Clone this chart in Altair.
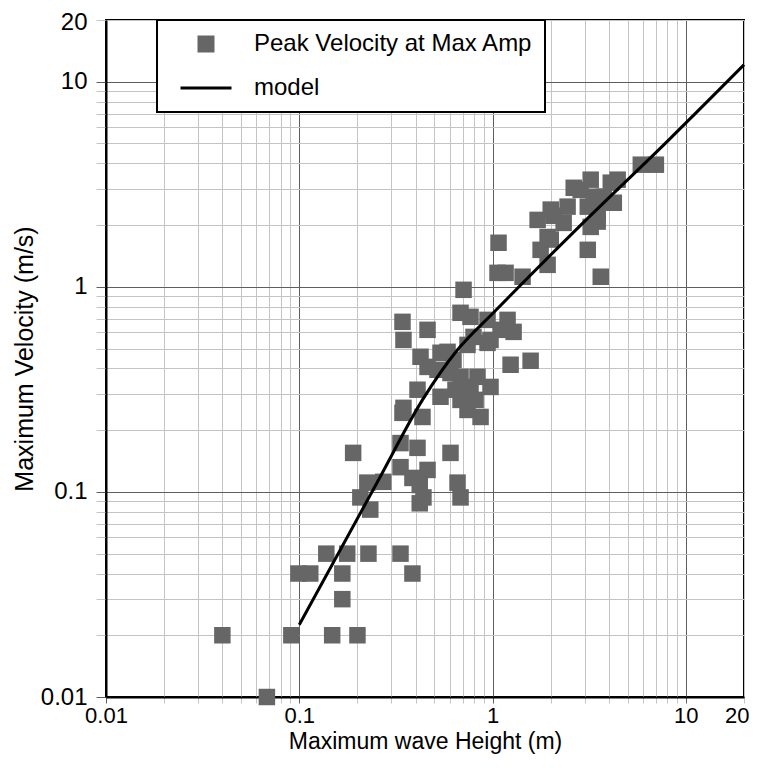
import altair as alt
import pandas as pd

# Observations: maximum wave height (m) and peak velocity at max amplitude (m/s)
height_m = [0.040, 0.068, 0.091, 0.099, 0.114, 0.138, 0.177, 0.228, 0.167, 0.167,
            0.148, 0.200, 0.334, 0.385, 0.190, 0.334, 0.409, 0.606, 0.334, 0.461,
            0.385, 0.225, 0.272, 0.659, 0.207, 0.233, 0.439, 0.683, 0.420, 0.342,
            0.434, 0.420, 0.708, 0.342, 0.346, 0.461, 0.769, 0.942, 1.196, 1.285,
            0.797, 0.942, 0.683, 0.976, 1.240, 1.574, 0.424, 0.538, 0.628, 0.519,
            0.606, 0.836, 0.976, 0.409, 0.538, 0.742, 0.867, 0.683, 0.769, 0.683,
            0.585, 0.461, 0.346, 0.742, 1.100, 0.643, 0.817, 1.074, 1.061, 1.168,
            1.430, 1.711, 2.071, 1.773, 1.927, 1.927, 2.445, 2.333, 2.857, 3.220,
            3.110, 3.500, 3.760, 4.090, 4.240, 3.110, 3.630, 5.850, 7.000, 2.630,
            2.000, 3.340, 4.440, 3.220, 2.000, 3.500]
velocity = [0.020, 0.010, 0.020, 0.040, 0.040, 0.050, 0.050, 0.050, 0.040, 0.030,
            0.020, 0.020, 0.050, 0.040, 0.155, 0.173, 0.164, 0.155, 0.132, 0.128,
            0.117, 0.111, 0.112, 0.111, 0.094, 0.082, 0.094, 0.094, 0.088, 0.243,
            0.232, 0.108, 0.967, 0.675, 0.551, 0.617, 0.714, 0.690, 0.690, 0.603,
            0.570, 0.533, 0.747, 0.551, 0.417, 0.436, 0.456, 0.477, 0.440, 0.394,
            0.380, 0.364, 0.325, 0.315, 0.291, 0.251, 0.232, 0.364, 0.325, 0.281,
            0.482, 0.407, 0.257, 0.521, 0.617, 0.315, 0.281, 1.640, 1.170, 1.170,
            1.120, 2.120, 2.220, 1.515, 1.280, 1.750, 2.460, 2.050, 2.970, 3.330,
            2.460, 2.080, 2.750, 3.220, 2.570, 1.515, 1.120, 3.940, 3.940, 3.040,
            2.380, 2.750, 3.330, 1.960, 1.700, 2.300]

# Model curve
model_h = [0.1, 0.254, 0.434, 0.659, 1.01, 2.86, 8.17, 20.0]
model_v = [0.0225, 0.112, 0.281, 0.493, 0.747, 2.0, 5.21, 12.1]

series_names = ["Peak Velocity at Max Amp", "model"]

# Axis grid / tick values
grid_vals = [0.01, 0.02, 0.03, 0.04, 0.05, 0.06, 0.07, 0.08, 0.09,
             0.1, 0.2, 0.3, 0.4, 0.5, 0.6, 0.7, 0.8, 0.9,
             1, 2, 3, 4, 5, 6, 7, 8, 9, 10, 20]
major_test = "indexof([0.01, 0.1, 1, 10], datum.value) >= 0"
label_expr = "indexof([0.01, 0.1, 1, 10, 20], datum.value) >= 0 ? format(datum.value, '~g') : ''"

FONT = "Liberation Sans"
SQUARE = "M-1,-1L1,-1L1,1L-1,1Z"
LINE = "M-3,-0.17L3,-0.17L3,0.17L-3,0.17Z"

obs = pd.DataFrame({"H": height_m, "V": velocity, "series": series_names[0]})
mod = pd.DataFrame({"H": model_h, "V": model_v})

grid_color = {"condition": {"test": major_test, "value": "#5e5e5e"}, "value": "#c4c4c4"}
last_align = {"condition": {"test": "datum.value == 20", "value": "right"}, "value": "center"}
last_offset = {"condition": {"test": "datum.value == 20", "value": 5}, "value": 0}
top_offset = {"condition": {"test": "datum.value == 20", "value": 2}, "value": 0}

xscale = alt.Scale(type="log", domain=[0.01, 20], nice=False)
yscale = alt.Scale(type="log", domain=[0.01, 20], nice=False)

xaxis = alt.Axis(values=grid_vals, labelExpr=label_expr, labelFlush=False, labelOverlap=False,
                 grid=True, gridColor=grid_color, tickColor=grid_color, tickSize=6,
                 labelAlign=last_align, labelOffset=last_offset,
                 labelPadding=2, labelFontSize=22, labelColor="black",
                 domainColor="black", domainWidth=2,
                 title="Maximum wave Height (m)", titleFontSize=23, titleFontWeight="normal",
                 titleColor="black", titleX=319, titleY=44, titleAlign="center",
                 titleBaseline="middle")
yaxis = alt.Axis(values=grid_vals, labelExpr=label_expr, labelFlush=False, labelOverlap=False,
                 grid=True, gridColor=grid_color, tickColor=grid_color, tickSize=10,
                 labelOffset=top_offset,
                 labelPadding=9, labelFontSize=24, labelColor="black", labelBaseline="middle",
                 domainColor="black", domainWidth=2,
                 title="Maximum Velocity (m/s)", titleFontSize=25, titleFontWeight="normal",
                 titleColor="black", titleX=-82, titleY=338.5, titleAngle=270,
                 titleAlign="center", titleBaseline="middle")

legend = alt.Legend(title=None, orient="none", legendX=51, legendY=0,
                    fillColor="white", strokeColor="black", padding=12,
                    symbolSize=289, symbolOffset=25, labelOffset=36, rowPadding=20,
                    labelFontSize=24, labelColor="black", labelLimit=500,
                    symbolOpacity=1, symbolStrokeWidth=0)

points = alt.Chart(obs).mark_point(filled=True, opacity=1, size=272, strokeWidth=0).encode(
    x=alt.X("H:Q", scale=xscale, axis=xaxis),
    y=alt.Y("V:Q", scale=yscale, axis=yaxis),
    color=alt.Color("series:N", scale=alt.Scale(domain=series_names, range=["#666666", "black"]),
                    legend=legend),
    shape=alt.Shape("series:N", scale=alt.Scale(domain=series_names, range=[SQUARE, LINE]),
                    legend=legend),
)

line = alt.Chart(mod).mark_line(color="black", strokeWidth=3, interpolate="monotone").encode(
    x=alt.X("H:Q", scale=xscale),
    y=alt.Y("V:Q", scale=yscale),
)

chart = alt.layer(points, line).properties(
    width=638, height=677,
    autosize=alt.AutoSizeParams(type="none"),
    padding={"left": 98, "top": 12, "right": 5, "bottom": 57},
).configure(font=FONT).configure_view(
    stroke="black", strokeWidth=2
).configure_legend(strokeWidth=2)

chart.save("out.html", embed_options={"renderer": "svg", "actions": False})
